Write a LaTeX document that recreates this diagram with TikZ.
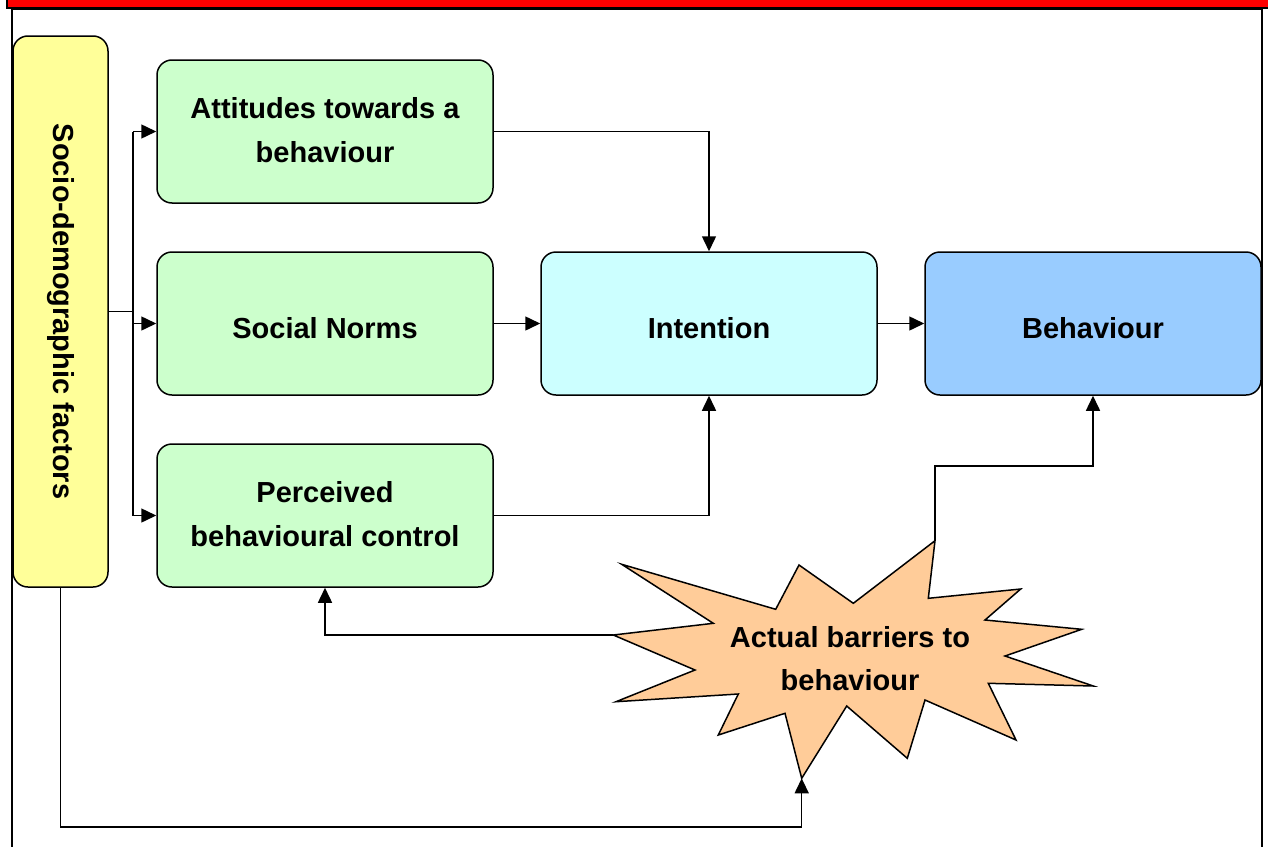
\documentclass[tikz,border=0pt]{standalone}
\usepackage{fontspec}
\setmainfont{Liberation Sans}
\usetikzlibrary{arrows.meta}

\definecolor{socioyellow}{HTML}{FFFF99}
\definecolor{factorgreen}{HTML}{CCFFCC}
\definecolor{intentcyan}{HTML}{CCFFFF}
\definecolor{behavblue}{HTML}{99CCFF}
\definecolor{barrierorange}{HTML}{FFCC99}

\tikzset{
    box/.style = {draw, line width=0.75pt, rounded corners=7.5pt, align=center,
        font=\fontsize{14.5}{22}\selectfont\bfseries},
    factor/.style = {box, fill=factorgreen, minimum width=168pt, minimum height=71.5pt},
    oneline/.style = {text height=14.5pt, text depth=0pt},
    twoline/.style = {text depth=2pt},
    arr/.style = {line width=0.75pt, -{Triangle[length=7.5pt,width=7pt]}},
    link/.style = {line width=0.75pt},
}

\begin{document}
\begin{tikzpicture}[x=0.5pt, y=-0.5pt]
    \useasboundingbox (0,0) rectangle (1268,846);
    % frame and title band
    \draw [line width=1pt] (11.5,860) -- (11.5,9) -- (1262,9) -- (1262,860);
    \draw [fill=red, line width=1pt] (6.5,-10) rectangle (1280,8);

    % boxes
    \node [box, fill=socioyellow, minimum width=47.5pt, minimum height=275.5pt]
        (socio) at (60.5,311.5) {\rotatebox{-90}{Socio-demographic factors}};
    \node [factor, twoline] (att) at (325,131.5) {Attitudes towards a\\behaviour};
    \node [factor, oneline] (norms) at (325,323.5) {Social Norms};
    \node [factor, twoline] (perc) at (325,515.5) {Perceived\\behavioural control};
    \node [box, oneline, fill=intentcyan, minimum width=168pt, minimum height=71.5pt]
        (intent) at (709,323.5) {Intention};
    \node [box, oneline, fill=behavblue, minimum width=168pt, minimum height=71.5pt]
        (behav) at (1093,323.5) {Behaviour};

    % barriers burst
    \draw [fill=barrierorange, line width=0.75pt]
        (621.7,564.3) -- (775.7,609.3) -- (799,565) -- (853.3,603.3)
        -- (935,540.7) -- (928.3,598.3) -- (1020.7,589) -- (985,620)
        -- (1081.7,629.3) -- (1005,656) -- (1093.3,686) -- (988.3,683.3)
        -- (1016,740) -- (925,700) -- (907.3,758.3) -- (846.7,706)
        -- (801.7,778.3) -- (785,713.3) -- (718.3,735) -- (738.3,694)
        -- (616,701.7) -- (695,670) -- (613.3,635) -- (713.3,623.3)
        -- cycle;
    \node [align=center, font=\fontsize{14.5}{21.5}\selectfont\bfseries]
        (barriers) at (850,659) {Actual barriers to\\behaviour};
    \coordinate (btop) at (935,540.7);
    \coordinate (bleft) at (613.3,635);
    \coordinate (bbot) at (801.7,778.3);

    % connectors
    \coordinate (split) at (133,311.5);
    \coordinate (bend) at (935,466);
    \coordinate (corner) at (801.7,827);
    \draw [link] (socio.east) -- (split);
    \draw [link] (split |- att.west) -- (split |- perc.west);
    \draw [arr] (split |- att.west) -- (att.west);
    \draw [arr] (split |- norms.west) -- (norms.west);
    \draw [arr] (split |- perc.west) -- (perc.west);
    \draw [arr] (att.east) -| (intent.north);
    \draw [arr] (norms.east) -- (intent.west);
    \draw [arr] (perc.east) -| (intent.south);
    \draw [arr] (intent.east) -- (behav.west);
    \draw [arr] (btop) -- (bend) -| (behav.south);
    \draw [arr] (bleft) -| (perc.south);
    \draw [arr] (socio.south) |- (corner) -- (bbot);
\end{tikzpicture}
\end{document}
